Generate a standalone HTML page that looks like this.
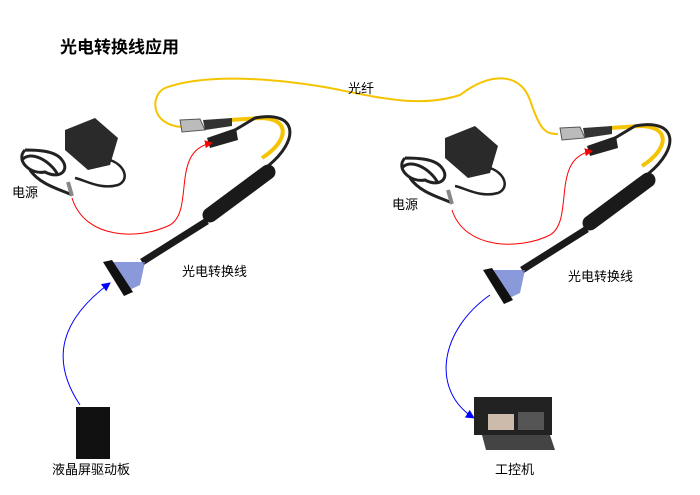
<!DOCTYPE html>
<html><head><meta charset="utf-8"><style>
body{margin:0;background:#fff;}
svg{display:block;font-family:"Liberation Sans","Noto Sans CJK SC",sans-serif;}
</style></head><body>
<svg width="700" height="495" viewBox="0 0 700 495" xmlns="http://www.w3.org/2000/svg">
<defs>
<marker id="ar" markerWidth="8" markerHeight="8" refX="7" refY="4" orient="auto" markerUnits="userSpaceOnUse"><path d="M0,0 L8,4 L0,8 z" fill="#f00"/></marker>
<marker id="ab" markerWidth="9" markerHeight="9" refX="8" refY="4.5" orient="auto" markerUnits="userSpaceOnUse"><path d="M0,0 L9,4.5 L0,9 z" fill="#00f"/></marker>
<g id="adapter">
  <path d="M25,150 C15,160 30,175 45,172 C60,180 70,170 62,160 C55,150 35,150 25,150 M22,160 C30,150 50,160 58,175 M30,170 C40,185 62,190 72,195" stroke="#222" stroke-width="3" fill="none"/>
  <path d="M68,182 L72,196" stroke="#888" stroke-width="4"/>
  <path d="M65,130 L95,118 L118,138 L110,165 L88,170 L65,150 z" fill="#2a2a2a"/>
  <path d="M110,160 C125,165 130,180 118,185 C100,190 85,180 75,178" stroke="#222" stroke-width="2.5" fill="none"/>
</g>
<g id="cable">
  <path d="M262,158 C290,140 290,118 260,118 L230,120" stroke="#f5c400" stroke-width="4" fill="none"/>
  <path d="M268,166 C300,140 298,110 255,118 L235,130" stroke="#222" stroke-width="3" fill="none"/>
  <path d="M180,120 L200,119 L205,130 L182,132 z" fill="#bbb" stroke="#555" stroke-width="1"/>
  <path d="M203,120 L232,118 L232,126 L205,130 z" fill="#333"/>
  <path d="M207,138 L236,128 L238,140 L210,148 z" fill="#222"/>
  <path d="M210,215 L268,172" stroke="#1a1a1a" stroke-width="15" stroke-linecap="round"/>
  <path d="M207,221 L142,262" stroke="#1a1a1a" stroke-width="7"/>
  <path d="M112,262 L145,262 L140,285 L125,292 z" fill="#6d7fd0" opacity=".8"/>
  <path d="M103,262 L112,260 L133,292 L124,296 z" fill="#111"/>
</g>
</defs>
<text x="60" y="53" font-size="17" font-weight="bold" fill="#000">光电转换线应用</text>
<path d="M182,127 C150,125 150,95 165,88 C200,75 260,76 330,88 C380,98 420,108 460,95 C490,72 520,72 530,100 C540,130 545,134 558,134" stroke="#f5c400" stroke-width="2" fill="none"/>
<text x="348" y="93" font-size="13" fill="#000">光纤</text>
<use href="#adapter"/>
<use href="#cable"/>
<g transform="translate(380,8)"><use href="#adapter"/><use href="#cable"/></g>
<path d="M72,198 C85,240 140,240 170,225 C195,210 170,150 212,143" stroke="#f00" stroke-width="1" fill="none" marker-end="url(#ar)"/>
<path d="M452,210 C465,250 520,250 550,235 C575,220 550,158 592,151" stroke="#f00" stroke-width="1" fill="none" marker-end="url(#ar)"/>
<text x="12" y="197" font-size="13">电源</text>
<text x="392" y="209" font-size="13">电源</text>
<text x="182" y="276" font-size="13">光电转换线</text>
<text x="568" y="281" font-size="13">光电转换线</text>
<path d="M80,405 C50,360 60,320 110,283" stroke="#00f" stroke-width="1" fill="none" marker-end="url(#ab)"/>
<path d="M490,295 C440,330 430,390 474,418" stroke="#00f" stroke-width="1" fill="none" marker-end="url(#ab)"/>
<rect x="76" y="407" width="34" height="52" fill="#111"/>
<text x="52" y="474" font-size="13">液晶屏驱动板</text>
<rect x="474" y="397" width="78" height="38" fill="#222"/>
<rect x="488" y="414" width="26" height="16" fill="#cba"/>
<rect x="518" y="412" width="26" height="18" fill="#555"/>
<path d="M482,435 L550,435 L555,450 L486,450 z" fill="#444"/>
<text x="495" y="474" font-size="13">工控机</text>
</svg>
</body></html>
